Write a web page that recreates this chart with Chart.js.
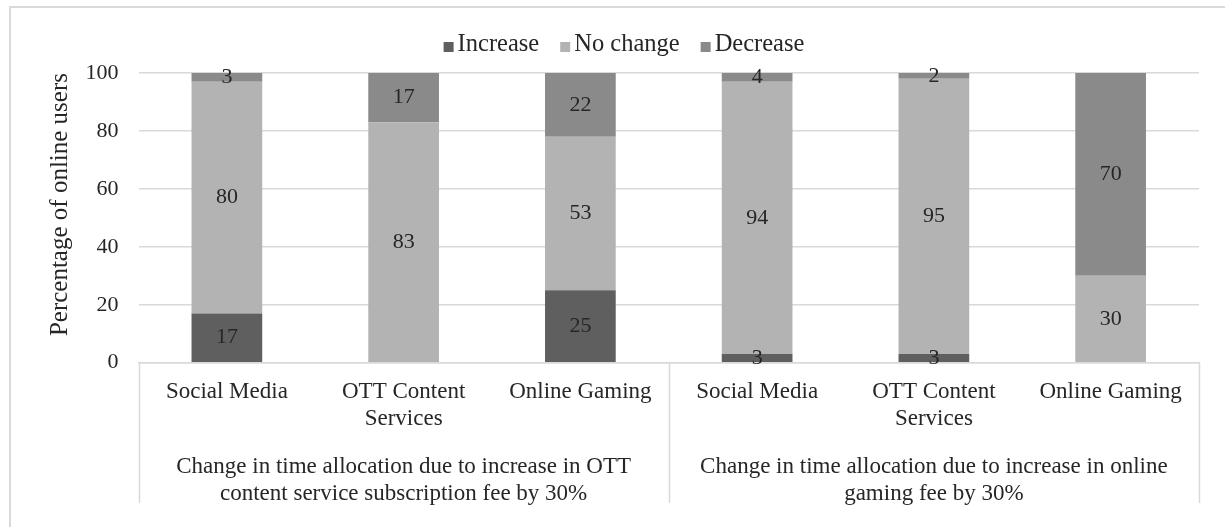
<!DOCTYPE html>
<html>
<head>
<meta charset="utf-8">
<script src="https://cdn.jsdelivr.net/npm/chart.js@4"></script>
<style>
  html, body { margin: 0; padding: 0; background: #ffffff; }
  canvas { display: block; }
</style>
</head>
<body>
<canvas id="chart" width="1225" height="527"></canvas>
<script>
// Categories (lower axis level) and their groups (upper axis level)
const categories = [
  'Social Media', ['OTT Content', 'Services'], 'Online Gaming',
  'Social Media', ['OTT Content', 'Services'], 'Online Gaming'
];
const groupLabels = [
  ['Change in time allocation due to increase in OTT', 'content service subscription fee by 30%'],
  ['Change in time allocation due to increase in online', 'gaming fee by 30%']
];
const groupSizes = [3, 3];

// Share of online users (%) per response
const increase = [17, 0, 25, 3, 3, 0];
const noChange = [80, 83, 53, 94, 95, 30];
const decrease = [3, 17, 22, 4, 2, 70];

const yTicks = [0, 20, 40, 60, 80, 100];

const FONT = "'Liberation Serif', 'Times New Roman', serif";
const TEXT = '#262626';
const GRID = '#d9d9d9';

// Light frame around the chart
const framePlugin = {
  id: 'frame',
  beforeDraw(chart) {
    const c = chart.ctx;
    c.save();
    c.fillStyle = '#ffffff';
    c.fillRect(0, 0, chart.width, chart.height);
    c.strokeStyle = GRID;
    c.lineWidth = 2;
    c.beginPath();
    c.moveTo(10, chart.height);
    c.lineTo(10, 7);
    c.lineTo(chart.width, 7);
    c.stroke();
    c.restore();
  }
};

// Vertical dividers between the axis groups
const groupLinesPlugin = {
  id: 'groupLines',
  afterDraw(chart, args, opts) {
    const x = chart.scales.x, g = chart.scales.xGroup;
    const c = chart.ctx;
    let edge = -0.5;
    const bounds = [edge];
    groupSizes.forEach(n => { edge += n; bounds.push(edge); });
    c.save();
    c.strokeStyle = GRID;
    c.lineWidth = 1.5;
    bounds.forEach(b => {
      const px = Math.round(x.getPixelForValue(b)) + 0.5;
      c.beginPath();
      c.moveTo(px, x.top);
      c.lineTo(px, g.bottom - opts.inset);
      c.stroke();
    });
    c.restore();
  }
};

// Value labels centred in each segment
const valueLabelsPlugin = {
  id: 'valueLabels',
  afterDatasetsDraw(chart) {
    const c = chart.ctx;
    const area = chart.chartArea;
    c.save();
    c.font = `22px ${FONT}`;
    c.fillStyle = TEXT;
    c.textAlign = 'center';
    c.textBaseline = 'middle';
    chart.data.datasets.forEach((ds, i) => {
      const meta = chart.getDatasetMeta(i);
      meta.data.forEach((bar, j) => {
        const v = ds.data[j];
        if (!v) return;
        const top = Math.max(bar.y, area.top);
        const bottom = Math.min(bar.base, area.bottom);
        c.fillText(String(v), bar.x, (top + bottom) / 2);
      });
    });
    c.restore();
  }
};

// Legend row above the plot
const legendPlugin = {
  id: 'legendRow',
  afterDraw(chart, args, opts) {
    const c = chart.ctx;
    c.save();
    c.font = `${opts.size}px ${FONT}`;
    c.textBaseline = 'middle';
    const items = chart.data.datasets.map(ds => ({
      text: ds.label, color: ds.backgroundColor, w: c.measureText(ds.label).width
    }));
    const total = items.reduce((s, it) => s + opts.box + opts.gap + it.w, 0) + opts.spacing * (items.length - 1);
    let x = opts.cx - total / 2;
    items.forEach(it => {
      c.fillStyle = it.color;
      c.fillRect(x, opts.y - opts.box / 2 + 2, opts.box, opts.box);
      c.fillStyle = TEXT;
      c.fillText(it.text, x + opts.box + opts.gap, opts.y);
      x += opts.box + opts.gap + it.w + opts.spacing;
    });
    c.restore();
  }
};

const axisFont = { family: FONT, size: 23, lineHeight: 1.17 };

new Chart(document.getElementById('chart'), {
  type: 'bar',
  data: {
    labels: categories,
    datasets: [
      { label: 'Increase', data: increase, backgroundColor: '#5f5f5f' },
      { label: 'No change', data: noChange, backgroundColor: '#b3b3b3' },
      { label: 'Decrease', data: decrease, backgroundColor: '#8a8a8a' }
    ]
  },
  options: {
    responsive: false,
    animation: false,
    layout: { padding: { left: 10, right: 26, top: 73, bottom: 0 } },
    datasets: { bar: { barPercentage: 0.4, categoryPercentage: 1, borderWidth: 0 } },
    plugins: {
      legend: { display: false },
      tooltip: { enabled: false },
      legendRow: { cx: 624, y: 45, size: 24.5, box: 10, gap: 4, spacing: 21 },
      groupLines: { inset: 24 }
    },
    scales: {
      x: {
        stacked: true,
        offset: true,
        weight: 0,
        grid: { display: false, drawTicks: false },
        border: { display: true, color: GRID, width: 1.5 },
        ticks: { autoSkip: false, maxRotation: 0, padding: 16, color: TEXT, font: axisFont },
        afterFit(s) { s.height = 70; }
      },
      xGroup: {
        type: 'category',
        labels: groupLabels,
        position: 'bottom',
        offset: true,
        weight: 1,
        grid: { display: false, drawTicks: false },
        border: { display: false },
        ticks: { autoSkip: false, maxRotation: 0, padding: 21, color: TEXT, font: axisFont },
        afterFit(s) { s.height = 94.3; }
      },
      y: {
        stacked: true,
        min: 0,
        max: 100,
        afterBuildTicks(s) { s.ticks = yTicks.map(v => ({ value: v })); },
        grid: { color: GRID, lineWidth: 1.5, drawTicks: false },
        border: { display: false },
        ticks: { padding: 20, color: TEXT, font: { family: FONT, size: 22 } },
        title: {
          display: true,
          text: 'Percentage of online users',
          color: TEXT,
          align: 'end',
          font: { family: FONT, size: 25 },
          padding: { top: 35, bottom: 0 }
        },
        afterFit(s) { s.width = 128.5; }
      }
    }
  },
  plugins: [framePlugin, groupLinesPlugin, valueLabelsPlugin, legendPlugin]
});
</script>
</body>
</html>
